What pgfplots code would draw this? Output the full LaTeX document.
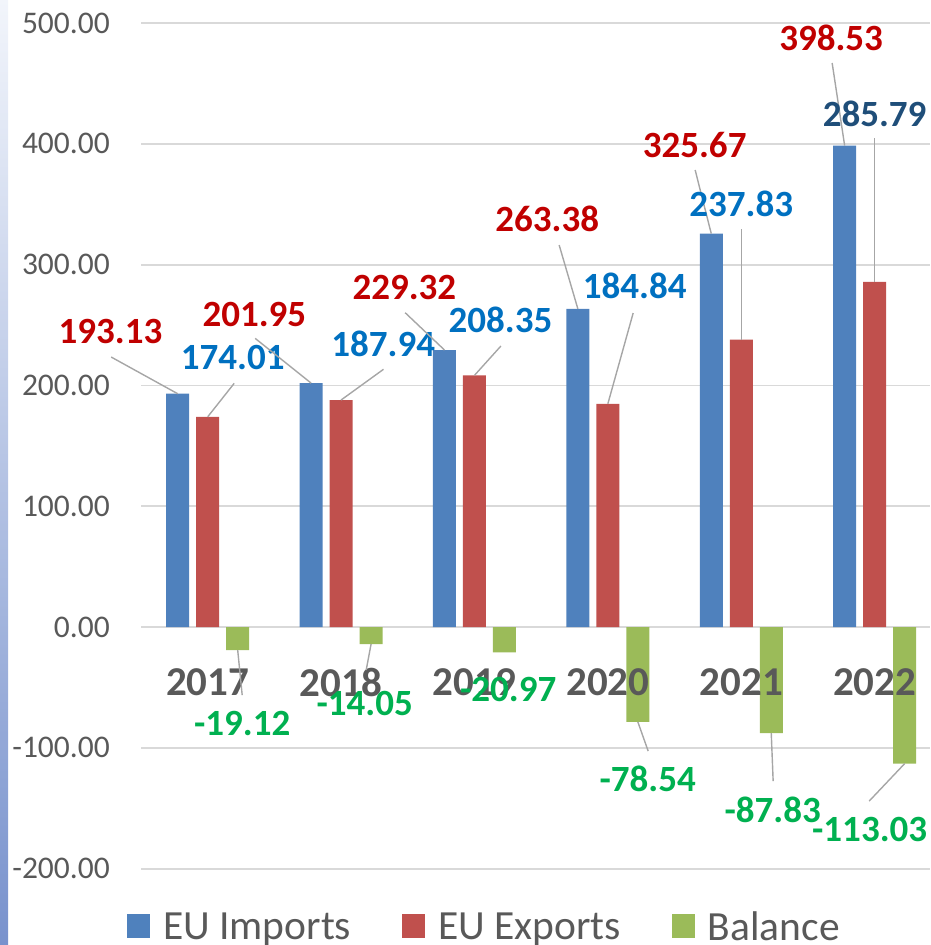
\documentclass[border=0pt]{standalone}
\usepackage{pgfplots}
\pgfplotsset{compat=1.18}
\usepackage{fontspec}
\setmainfont{Carlito}
\definecolor{cImp}{HTML}{4F81BD}
\definecolor{cExp}{HTML}{C0504D}
\definecolor{cBal}{HTML}{9BBB59}
\definecolor{lRed}{HTML}{C00000}
\definecolor{lBlue}{HTML}{0070C0}
\definecolor{lDark}{HTML}{1F4E79}
\definecolor{lGreen}{HTML}{00B050}
\definecolor{tickc}{HTML}{595959}
\definecolor{gridc}{HTML}{D9D9D9}
\definecolor{leadc}{HTML}{A6A6A6}
% #1 index, #2 value, #3 bar shift, #4/#5 leader end, #6/#7 label offset, #8 colour
\newcommand\dlab[8]{%
  \draw[leadc, line width=1.4pt] ([xshift=#3pt]axis cs:#1,#2) -- ++(#4pt,#5pt);
  \path ([xshift=#3pt]axis cs:#1,#2) ++(#6pt,#7pt) node[lbl, text=#8] {#2};
}
\newcommand\dlabn[6]{%
  \path ([xshift=#3pt]axis cs:#1,#2) ++(#4pt,#5pt) node[lbl, text=#6] {#2};
}
\tikzset{lbl/.style={font=\fontsize{37}{44}\selectfont\bfseries, inner sep=0pt, anchor=center}}
\begin{document}
\begin{tikzpicture}[x=1pt,y=1pt]
\path (0,0) rectangle (930,945);
\shade[top color={rgb,255:red,242;green,245;blue,251}, bottom color={rgb,255:red,120;green,146;blue,205}] (0,0) rectangle (8,945);
\begin{axis}[
  set layers,
  at={(141pt,76.3pt)}, anchor=south west,
  scale only axis, width=789pt, height=845.7pt,
  xmin=-0.5, xmax=5.415, ymin=-200, ymax=500,
  clip=false,
  axis line style={draw=none},
  major tick length=0pt,
  ytick={-200,-100,0,100,200,300,400,500},
  yticklabels={-200.00,-100.00,0.00,100.00,200.00,300.00,400.00,500.00},
  ymajorgrids, grid style={color=gridc, line width=1.8pt},
  yticklabel style={font=\fontsize{31.5}{38}\selectfont, text=tickc, inner sep=0pt, anchor=east, xshift=-31pt},
  xtick={0,1,2,3,4,5},
  xticklabels={2017,2018,2019,2020,2021,2022},
  xticklabel style={font=\fontsize{41}{48}\selectfont\bfseries, text=tickc, inner sep=0pt, anchor=center, yshift=186.7pt},
  legend columns=3,
  legend style={at={(-0.01774,-0.06835)}, anchor=west, draw=none, fill=none,
    inner sep=0pt, outer sep=0pt, row sep=0pt,
    font=\fontsize{41.5}{48}\selectfont, text=tickc,
    nodes={inner sep=0pt},
    /tikz/every odd column/.append style={column sep=13pt},
    /tikz/every even column/.append style={column sep=51pt}},
  legend cell align=left,
]
\addplot[on layer=axis ticks, ybar, bar width=23pt, bar shift=-30pt, fill=cImp, draw=none,
  legend image code/.code={\fill[cImp] (0pt,-12pt) rectangle (23pt,12pt);}]
  coordinates {(0,193.13) (1,201.95) (2,229.32) (3,263.38) (4,325.67) (5,398.53)};
\addlegendentry{EU Imports}
\addplot[on layer=axis ticks, ybar, bar width=23pt, bar shift=0pt, fill=cExp, draw=none,
  legend image code/.code={\fill[cExp] (0pt,-12pt) rectangle (23pt,12pt);}]
  coordinates {(0,174.01) (1,187.94) (2,208.35) (3,184.84) (4,237.83) (5,285.79)};
\addlegendentry{EU Exports}
\addplot[on layer=axis ticks, ybar, bar width=23pt, bar shift=30pt, fill=cBal, draw=none,
  legend image code/.code={\fill[cBal] (0pt,-12pt) rectangle (23pt,12pt);}]
  coordinates {(0,-19.12) (1,-14.05) (2,-20.97) (3,-78.54) (4,-87.83) (5,-113.03)};
\addlegendentry{Balance}
% 2017
\dlab{0}{193.13}{-30}{-66.5}{36.7}{-67.2}{62.2}{lRed}
\dlab{0}{174.01}{0}{26.5}{33.5}{25}{59.8}{lBlue}
\dlab{0}{-19.12}{30}{4.5}{-44.9}{4.5}{-73.4}{lGreen}
% 2018
\dlab{1}{201.95}{-30}{-55.9}{44.7}{-56.7}{69}{lRed}
\dlab{1}{187.94}{0}{42.4}{30.7}{42.1}{56.5}{lBlue}
\dlab{1}{-14.05}{30}{-4.9}{-26}{-6.4}{-59.5}{lGreen}
% 2019
\dlab{2}{229.32}{-30}{-39.3}{37.3}{-40.1}{62.3}{lRed}
\dlab{2}{208.35}{0}{26.4}{29.3}{26}{55.3}{lBlue}
\dlabn{2}{-20.97}{30}{3.7}{-36.7}{lGreen}
% 2020
\dlab{3}{263.38}{-30}{-18.7}{63.8}{-30.7}{89.8}{lRed}
\dlab{3}{184.84}{0}{25.3}{90.7}{26.8}{117.7}{lBlue}
\dlab{3}{-78.54}{30}{10.3}{-29.1}{9.8}{-57.1}{lGreen}
% 2021
\dlab{4}{325.67}{-30}{-16.1}{63.6}{-16.6}{88.6}{lRed}
\dlab{4}{237.83}{0}{0}{110.7}{0}{135.7}{lBlue}
\dlab{4}{-87.83}{30}{1.9}{-47.9}{1.4}{-76.9}{lGreen}
% 2022
\dlab{5}{398.53}{-30}{-12.5}{82.6}{-13.5}{107.6}{lRed}
\dlab{5}{285.79}{0}{0}{143.8}{0}{168.3}{lDark}
\dlab{5}{-113.03}{30}{-35.5}{-37.5}{-35}{-65.5}{lGreen}
\end{axis}
\useasboundingbox (0,0) rectangle (930,945);
\end{tikzpicture}
\end{document}
